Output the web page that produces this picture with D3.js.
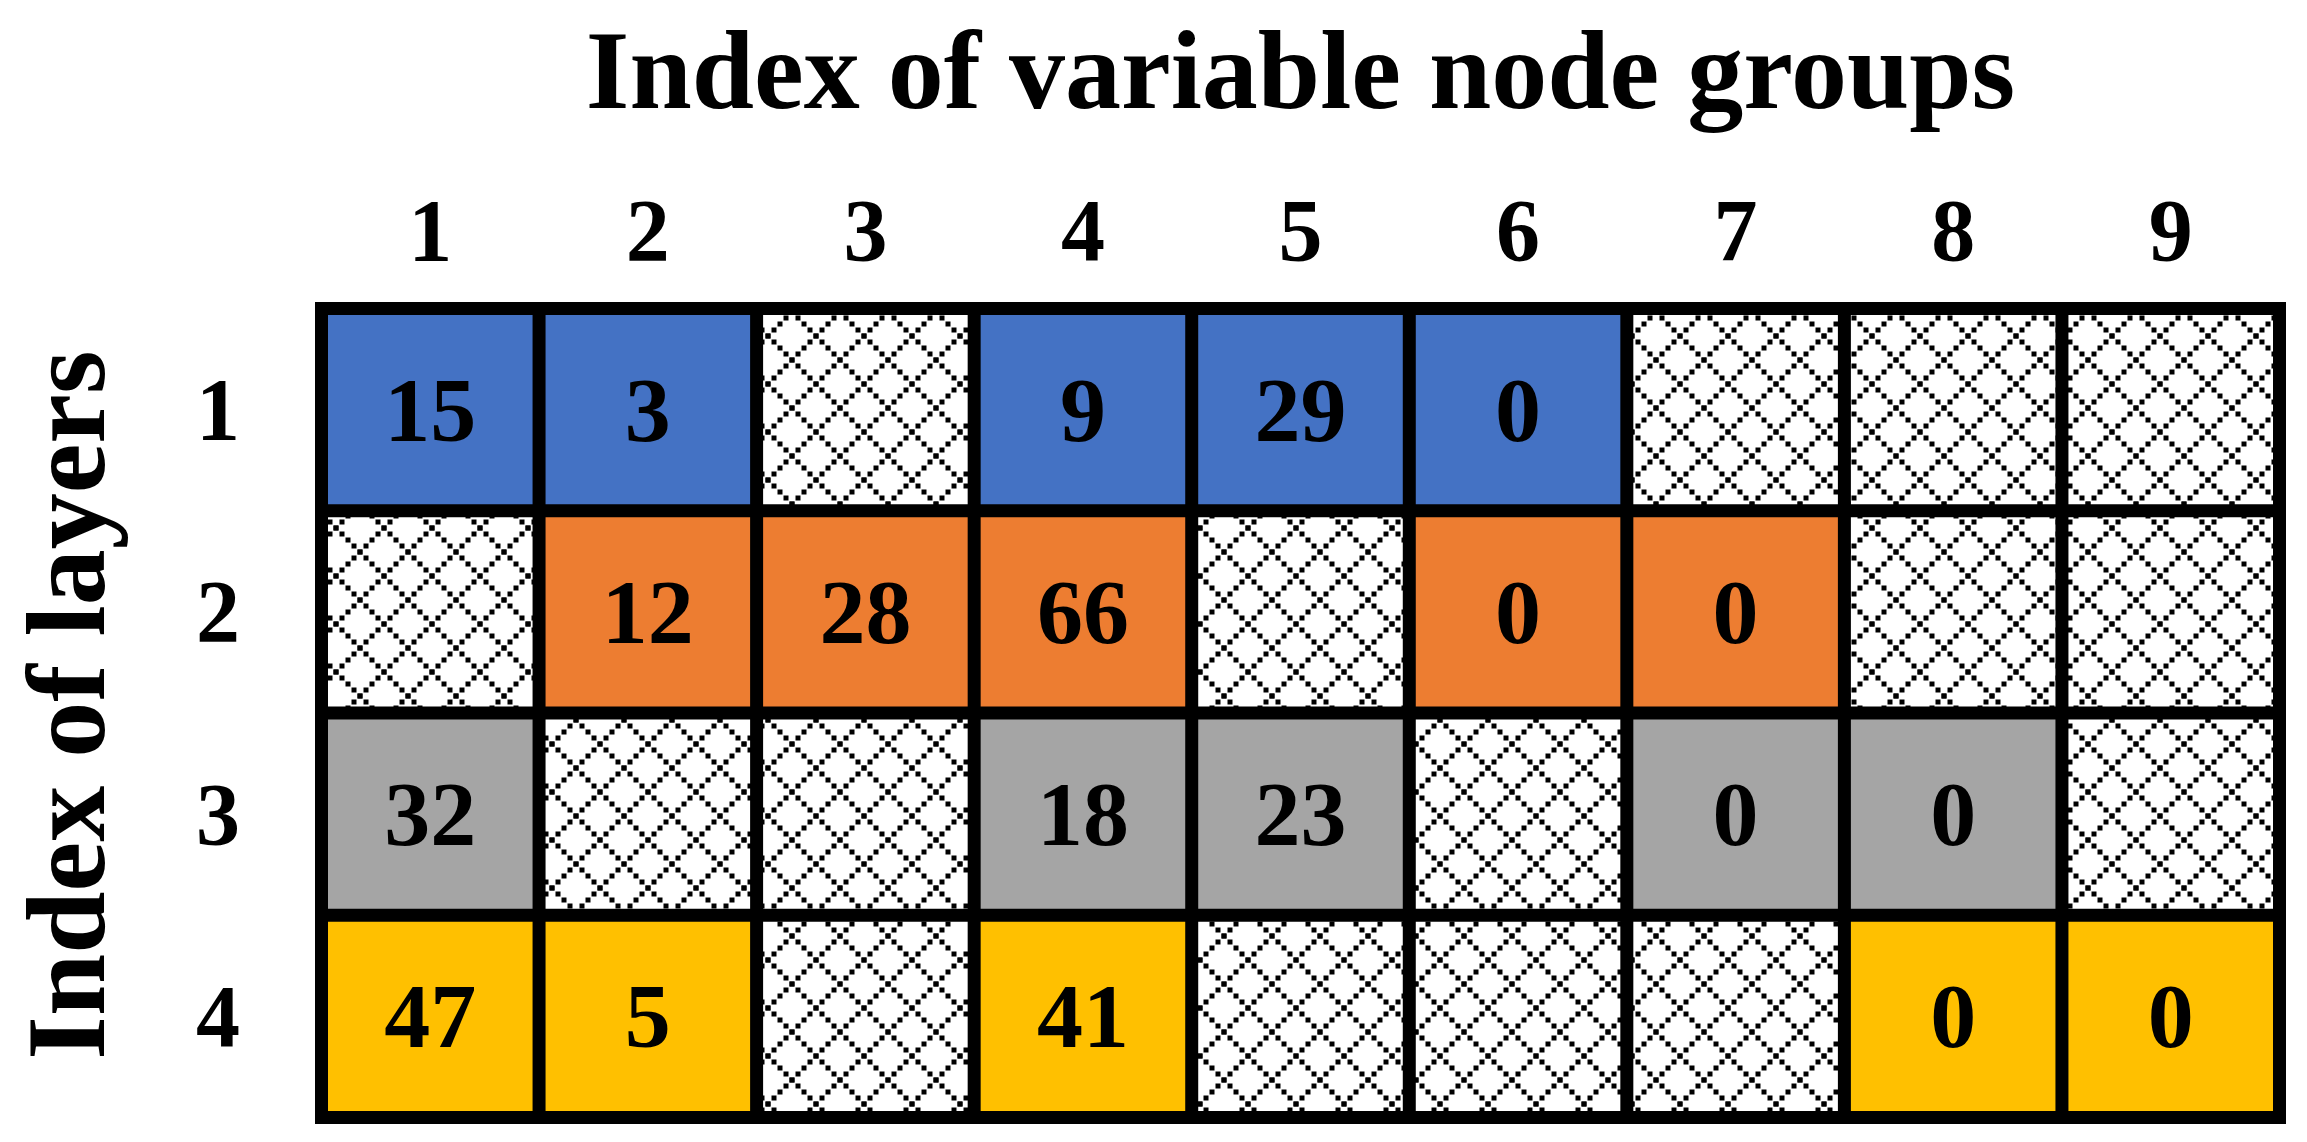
<!DOCTYPE html>
<html><head><meta charset="utf-8">
<script src="https://cdn.jsdelivr.net/npm/d3@7"></script>
<style>body{margin:0;background:#fff}svg{display:block}text{font-family:"Liberation Serif","Times New Roman",serif;font-weight:bold;fill:#000}</style>
</head><body>
<script>
const cols = [1,2,3,4,5,6,7,8,9];
const rows = [1,2,3,4];
const rowColors = ["#4472C4","#ED7D31","#A5A5A5","#FFC000"];
// null = hatched (unused) cell
const layer1 = [15,3,null,9,29,0,null,null,null];
const layer2 = [null,12,28,66,null,0,0,null,null];
const layer3 = [32,null,null,18,23,null,0,0,null];
const layer4 = [47,5,null,41,null,null,null,0,0];
const values = [layer1,layer2,layer3,layer4];

const W = 2307, H = 1142;
const svg = d3.select("body").append("svg").attr("width",W).attr("height",H);

// hatch pattern: diamond lattice of small squares
const P = 48, step = 6, s = 5;
const pat = svg.append("defs").append("pattern").attr("id","hatch")
  .attr("patternUnits","userSpaceOnUse").attr("width",P).attr("height",P);
pat.append("rect").attr("width",P).attr("height",P).attr("fill","#fff");
for (let k=0;k<P/step;k++){
  [[k*step, k*step],[P-k*step, k*step]].forEach(([px,py])=>{
    [0,-P,P].forEach(ox=>[0,-P,P].forEach(oy=>{
      pat.append("rect").attr("x",px+ox-s/2).attr("y",py+oy-s/2)
        .attr("width",s).attr("height",s).attr("fill","#000");
    }));
  });
}

const x0 = 315, x1 = 2286, y0 = 302, y1 = 1124, bw = 13;
const x = d3.scaleBand().domain(cols).range([x0,x1-bw]);
const y = d3.scaleBand().domain(rows).range([y0,y1-bw]);

svg.append("rect").attr("x",x0).attr("y",y0).attr("width",x1-x0).attr("height",y1-y0).attr("fill","#000");

const cells = [];
values.forEach((r,i)=>r.forEach((v,j)=>cells.push({row:rows[i],col:cols[j],v,c:rowColors[i]})));

const g = svg.append("g");
g.selectAll("rect.cell").data(cells).join("rect").attr("class","cell")
  .attr("x",d=>x(d.col)+bw).attr("y",d=>y(d.row)+bw)
  .attr("width",x.bandwidth()-bw).attr("height",y.bandwidth()-bw)
  .attr("fill",d=>d.v===null?"url(#hatch)":d.c);
g.selectAll("text.val").data(cells.filter(d=>d.v!==null)).join("text").attr("class","val")
  .attr("x",d=>x(d.col)+bw/2+x.bandwidth()/2).attr("y",d=>y(d.row)+bw/2+y.bandwidth()/2)
  .attr("text-anchor","middle").attr("dominant-baseline","central").attr("font-size",92)
  .text(d=>d.v);

svg.selectAll("text.col").data(cols).join("text").attr("class","col")
  .attr("x",d=>x(d)+bw/2+x.bandwidth()/2).attr("y",230)
  .attr("text-anchor","middle").attr("dominant-baseline","central").attr("font-size",88).text(d=>d);
svg.selectAll("text.row").data(rows).join("text").attr("class","row")
  .attr("x",218).attr("y",d=>y(d)+bw/2+y.bandwidth()/2)
  .attr("text-anchor","middle").attr("dominant-baseline","central").attr("font-size",88).text(d=>d);

svg.append("text").attr("x",(x0+x1)/2).attr("y",108).attr("text-anchor","middle")
  .attr("font-size",112).text("Index of variable node groups");
svg.append("text").attr("transform","translate(104,705) rotate(-90)").attr("text-anchor","middle")
  .attr("font-size",112).text("Index of layers");
</script>
</body></html>
